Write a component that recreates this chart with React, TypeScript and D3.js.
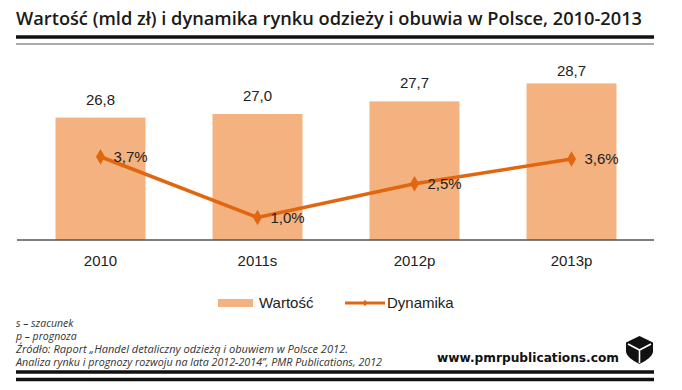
import * as d3 from "d3";

const categories = ["2010", "2011s", "2012p", "2013p"];
const values = [26.8, 27.0, 27.7, 28.7];
const valueLabels = ["26,8", "27,0", "27,7", "28,7"];
const growth = [3.7, 1.0, 2.5, 3.6];
const growthLabels = ["3,7%", "1,0%", "2,5%", "3,6%"];
const notes = [
  "s – szacunek",
  "p – prognoza",
  "Źródło: Raport „Handel detaliczny odzieżą i obuwiem w Polsce 2012.",
  "Analiza rynku i prognozy rozwoju na lata 2012-2014”, PMR Publications, 2012",
];

const W = 682;
const H = 390;
const BAR = "#f3b27f";
const LINE = "#e0660f";
const FONT = "'Liberation Sans', Arial, sans-serif";

export default function App() {
  const baseY = 240;
  const x = d3
    .scaleBand<string>()
    .domain(categories)
    .range([22, 650])
    .paddingInner(0.427)
    .paddingOuter(0.2135);
  const y = d3.scaleLinear().domain([20, 30]).range([baseY, 60]);
  const y2 = d3.scaleLinear().domain([0, 8]).range([baseY, 60]);

  const cx = (c: string) => (x(c) ?? 0) + x.bandwidth() / 2;
  const pts = categories.map((c, i) => [cx(c), y2(growth[i])] as [number, number]);
  const line = d3.line()(pts) ?? "";
  const diamond = d3.symbol(d3.symbolDiamond, 70)() ?? "";
  const smallDiamond = d3.symbol(d3.symbolDiamond, 14)() ?? "";

  return (
    <svg
      width={W}
      height={H}
      viewBox={`0 0 ${W} ${H}`}
      style={{ position: "absolute", left: 0, top: 0, background: "#fff" }}
    >
      <rect width={W} height={H} fill="#fff" />
      {/* title */}
      <text
        x={16}
        y={25}
        fontFamily="'Open Sans', sans-serif"
        fontWeight={600}
        fontSize={18}
        fill="#1a1a1a"
        textLength={626}
        lengthAdjust="spacingAndGlyphs"
      >
        Wartość (mld zł) i dynamika rynku odzieży i obuwia w Polsce, 2010-2013
      </text>
      <line x1={16} x2={654} y1={37} y2={37} stroke="#111" strokeWidth={3.5} />
      <line x1={16} x2={654} y1={44} y2={44} stroke="#aaa" strokeWidth={2} />

      {/* bars */}
      {categories.map((c, i) => (
        <rect
          key={c}
          x={x(c)}
          y={y(values[i])}
          width={x.bandwidth()}
          height={baseY - y(values[i])}
          fill={BAR}
        />
      ))}
      {categories.map((c, i) => (
        <text
          key={c}
          x={cx(c)}
          y={Math.max(76, y(values[i]) - 13)}
          textAnchor="middle"
          fontFamily={FONT}
          fontSize={15}
          fill="#222"
        >
          {valueLabels[i]}
        </text>
      ))}

      {/* axis */}
      <line x1={17} x2={654} y1={baseY} y2={baseY} stroke="#555" strokeWidth={1.5} />
      {categories.map((c) => (
        <text
          key={c}
          x={cx(c)}
          y={265.5}
          textAnchor="middle"
          fontFamily={FONT}
          fontSize={15}
          fill="#222"
        >
          {c}
        </text>
      ))}

      {/* growth line */}
      <path d={line} fill="none" stroke={LINE} strokeWidth={3.5} />
      {pts.map((p, i) => (
        <path key={i} d={diamond} transform={`translate(${p[0]},${p[1]})`} fill={LINE} />
      ))}
      {pts.map((p, i) => (
        <text
          key={i}
          x={p[0] + 13}
          y={p[1] + 5}
          fontFamily={FONT}
          fontSize={15}
          fill="#222"
        >
          {growthLabels[i]}
        </text>
      ))}

      {/* legend */}
      <rect x={218} y={299} width={35} height={8} fill={BAR} />
      <text x={259} y={308} fontFamily={FONT} fontSize={15} fill="#222">
        Wartość
      </text>
      <line x1={345} x2={385} y1={303} y2={303} stroke={LINE} strokeWidth={3} />
      <path d={smallDiamond} transform="translate(365,303)" fill={LINE} />
      <text x={387} y={308} fontFamily={FONT} fontSize={15} fill="#222">
        Dynamika
      </text>

      {/* notes */}
      {notes.map((n, i) => (
        <text
          key={i}
          x={16}
          y={327 + i * 13}
          fontFamily="'Open Sans', sans-serif"
          fontStyle="italic"
          fontSize={10.5}
          fill="#333"
          textLength={i === 2 ? 332 : i === 3 ? 366 : undefined}
          lengthAdjust="spacingAndGlyphs"
        >
          {n}
        </text>
      ))}

      {/* footer */}
      <text
        x={437}
        y={362}
        fontFamily="'DejaVu Sans', sans-serif"
        fontWeight="bold"
        fontSize={12.5}
        fill="#111"
        textLength={182}
        lengthAdjust="spacingAndGlyphs"
      >
        www.pmrpublications.com
      </text>
      <g>
        <path
          d="M639.5,336 L653,342.5 L653,352 Q652,358 639.5,364 Q627,358 626,352 L626,342.5 Z"
          fill="#111"
        />
        <path
          d="M628,344 L639.5,350 L651,344 M639.5,350 L639.5,363"
          fill="none"
          stroke="#fff"
          strokeWidth={1.6}
        />
      </g>
      <line x1={16} x2={654} y1={372} y2={372} stroke="#111" strokeWidth={3.5} />
      <line x1={16} x2={654} y1={379.5} y2={379.5} stroke="#111" strokeWidth={3.5} />
    </svg>
  );
}
